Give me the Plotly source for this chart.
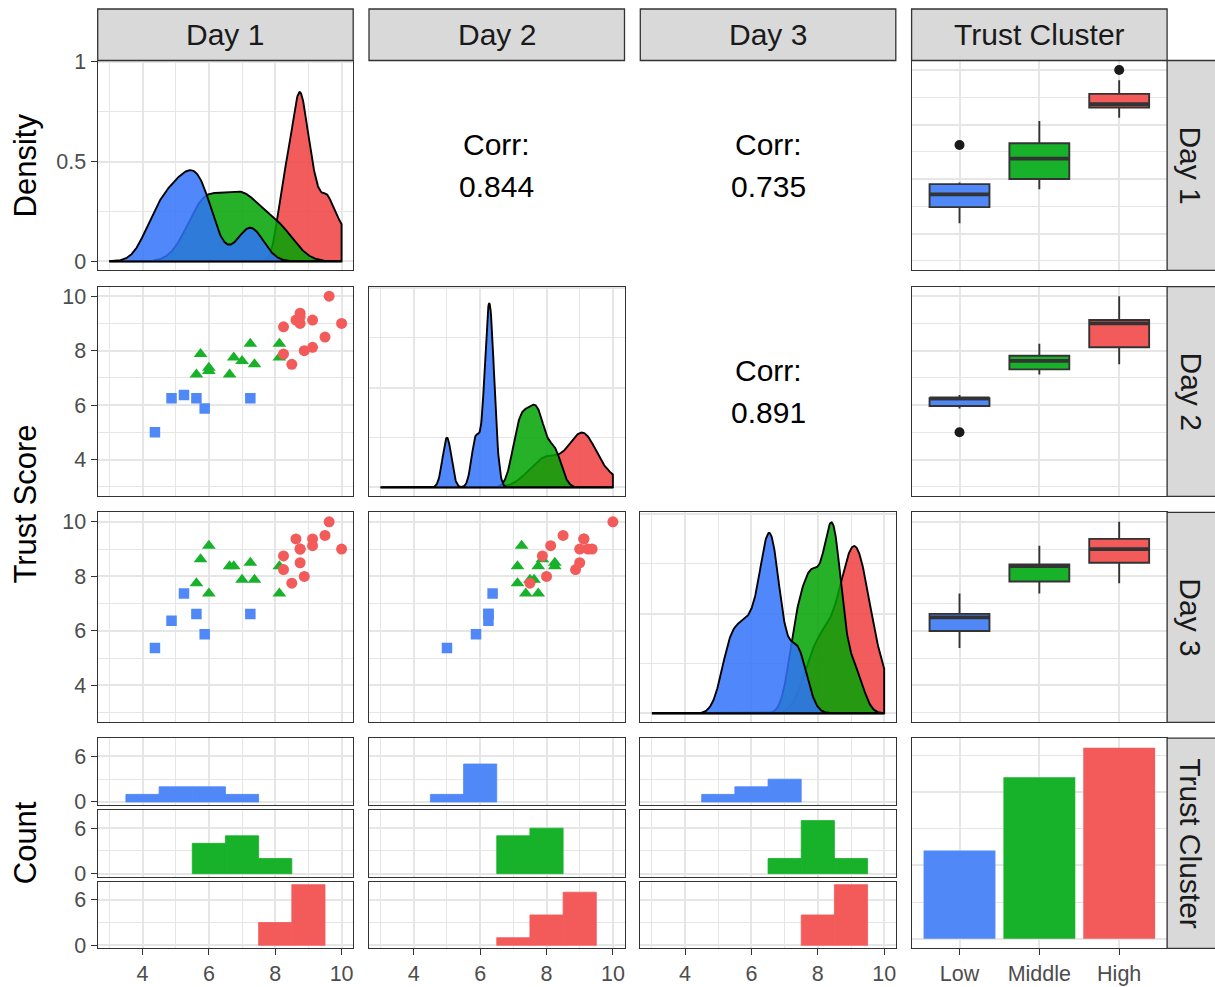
import numpy as np
import plotly.graph_objects as go

# ---------------- data ----------------
clusters = ["Low", "Middle", "High"]
days = ["Day 1", "Day 2", "Day 3"]

day1_low = [4.375, 4.875, 5.25, 5.625, 5.875, 7.25]
day2_low = [5.0, 6.25, 6.375, 6.25, 5.875, 6.25]
day3_low = [5.375, 6.375, 7.375, 6.625, 5.875, 6.625]

day1_mid = [5.75, 6.0, 6.0, 5.625, 6.625, 6.75, 7.0, 7.25, 7.375, 8.125, 8.125]
day2_mid = [7.875, 7.375, 7.25, 7.125, 7.125, 7.75, 7.625, 8.25, 7.5, 8.25, 7.75]
day3_mid = [8.625, 7.375, 9.125, 7.75, 8.375, 8.375, 7.875, 8.5, 7.875, 8.375, 7.375]

day1_high = [9.625, 8.75, 8.625, 8.75, 9.125, 10.0, 8.25, 9.5, 9.125, 8.875, 8.25, 8.5, 8.75]
day2_high = [10.0, 9.375, 9.125, 9.0, 9.125, 9.0, 8.875, 8.5, 8.125, 8.0, 7.875, 7.5, 9.25]
day3_high = [10.0, 9.0, 9.375, 8.5, 9.375, 9.0, 8.25, 9.5, 9.125, 8.0, 8.75, 7.75, 9.0]

corr_labels = {(0, 1): "0.844", (0, 2): "0.735", (1, 2): "0.891"}

x_ticks = [4, 6, 8, 10]
x_minor = [3, 5, 7, 9]
density_ticks = [0, 0.5, 1]
density_ticktext = ["0", "0.5", "1"]
count_ticks = [0, 6]
count_minor = [3]
bar_ticks = [0, 5, 10]
bar_minor = [2.5, 7.5, 12.5]

data = {
    "Low": [day1_low, day2_low, day3_low],
    "Middle": [day1_mid, day2_mid, day3_mid],
    "High": [day1_high, day2_high, day3_high],
}

# ---------------- style ----------------
W, H = 1215, 987
FONT = "Liberation Sans, Arial, Helvetica, sans-serif"
BORDER = "#333333"
GRID = "#E6E6E6"
colors = {"Low": "#5088F7", "Middle": "#18B12A", "High": "#F35B5B"}
fills = {"Low": "rgba(49,114,249,0.85)", "Middle": "rgba(0,163,4,0.85)",
         "High": "rgba(241,64,64,0.85)"}
symbols = {"Low": "square", "Middle": "triangle-up", "High": "circle"}
msizes = {"Low": 10.5, "Middle": 12, "High": 11}

X_LIM = (3.0, 10.0)
EXP = 0.05
X_RANGE = [X_LIM[0] - EXP * (X_LIM[1] - X_LIM[0]), X_LIM[1] + EXP * (X_LIM[1] - X_LIM[0])]
CAT_RANGE = [-0.6, 2.6]
BOX_W = 0.75
BAR_W = 0.9
diag_peak_frac = [None, 0.924, 0.957]

col_px = [(97.7, 353.2), (369.0, 624.5), (640.3, 895.8), (911.6, 1167.1)]
row_px = [(60.5, 270.3), (286.7, 496.3), (512.3, 722.3), (738.2, 948.3)]
sub_px = [(738.2, 805.0), (810.0, 876.7), (881.6, 948.3)]
STRIP_TOP = (9.0, 60.5)
STRIP_RIGHT = (1167.1, 1218.0)

layout = {}
counter = [0]


def new_axes(xpx, ypx, xa, ya):
    counter[0] += 1
    k = counter[0]
    s = "" if k == 1 else str(k)
    xa = dict(xa)
    ya = dict(ya)
    xa.update(domain=[xpx[0] / W, xpx[1] / W], anchor="y" + s)
    ya.update(domain=[1 - ypx[1] / H, 1 - ypx[0] / H], anchor="x" + s)
    layout["xaxis" + s] = xa
    layout["yaxis" + s] = ya
    return "x" + s, "y" + s


def axis(rng, major=None, minor=None, labels=False, ticktext=None, grid=True):
    a = dict(range=rng, showline=True, mirror=True, linecolor=BORDER, linewidth=1.3,
             zeroline=False, fixedrange=True, showgrid=bool(grid and major is not None),
             gridcolor=GRID, gridwidth=1.6)
    if major is not None:
        a["tickmode"] = "array"
        a["tickvals"] = list(major)
        if ticktext is not None:
            a["ticktext"] = ticktext
    if labels:
        a.update(ticks="outside", ticklen=6, tickwidth=1.3, tickcolor=BORDER,
                 showticklabels=True,
                 tickfont=dict(family=FONT, size=21.5, color="#4D4D4D"))
    else:
        a.update(ticks="", showticklabels=False)
    if minor is not None and grid:
        a["minor"] = dict(tickmode="array", tickvals=list(minor), showgrid=True,
                          gridcolor=GRID, gridwidth=0.8, ticks="")
    return a


def bw_nrd0(v):
    v = np.asarray(v, dtype=float)
    sd = np.std(v, ddof=1)
    q75, q25 = np.percentile(v, [75, 25])
    lo = min(sd, (q75 - q25) / 1.34)
    if lo <= 0:
        lo = sd if sd > 0 else 1.0
    return 0.9 * lo * len(v) ** -0.2


GRIDX = np.linspace(X_LIM[0], X_LIM[1], 512)


def kde(v):
    v = np.asarray(v, dtype=float)
    bw = bw_nrd0(v)
    z = (GRIDX[:, None] - v[None, :]) / bw
    return np.exp(-0.5 * z ** 2).sum(axis=1) / (len(v) * bw * np.sqrt(2 * np.pi))


EDGES = np.arange(X_LIM[0] - 0.5, X_LIM[1] + 1.0, 1.0)


def hist_counts(v):
    v = np.asarray(v, dtype=float)
    lo, hi = EDGES[:-1], EDGES[1:]
    counts = np.array([np.sum((v > a) & (v <= b)) for a, b in zip(lo, hi)])
    keep = (lo >= X_LIM[0]) & (hi <= X_LIM[1]) & (counts > 0)
    return ((lo + hi) / 2)[keep], counts[keep]


def box_stats(v):
    v = np.sort(np.asarray(v, dtype=float))
    q1, med, q3 = np.percentile(v, [25, 50, 75])
    iqr = q3 - q1
    lf, uf = q1 - 1.5 * iqr, q3 + 1.5 * iqr
    inside = v[(v >= lf) & (v <= uf)]
    out = v[(v < lf) | (v > uf)]
    return q1, med, q3, inside.min(), inside.max(), out


traces = []
annotations = []
shapes = []

max_count = max(hist_counts(data[cl][d])[1].max() for cl in clusters for d in range(3))
HIST_RANGE = [-EXP * max_count, (1 + EXP) * max_count]

for r in range(3):
    for c in range(4):
        xpx, ypx = col_px[c], row_px[r]
        left = c == 0
        if c == r:
            dens = {cl: kde(data[cl][r]) for cl in clusters}
            M = max(d.max() for d in dens.values())
            scale = 1.0 if diag_peak_frac[r] is None else M / diag_peak_frac[r]
            xa = axis(X_RANGE, x_ticks, x_minor)
            ya = axis([-0.045 * scale, 1.007 * scale],
                      [t * scale for t in density_ticks], [0.25 * scale, 0.75 * scale],
                      labels=left, ticktext=density_ticktext if left else None)
            xn, yn = new_axes(xpx, ypx, xa, ya)
            for cl in clusters[::-1]:
                d = dens[cl]
                xs = np.concatenate([GRIDX, [GRIDX[-1], GRIDX[0]]])
                ys = np.concatenate([d, [0.0, 0.0]])
                traces.append(go.Scatter(x=xs, y=ys, mode="lines", fill="toself",
                                         fillcolor=fills[cl],
                                         line=dict(color="black", width=1.9),
                                         xaxis=xn, yaxis=yn, hoverinfo="skip",
                                         showlegend=False))
        elif c < r:
            xa = axis(X_RANGE, x_ticks, x_minor)
            ya = axis(X_RANGE, x_ticks, x_minor, labels=left)
            xn, yn = new_axes(xpx, ypx, xa, ya)
            for cl in clusters:
                traces.append(go.Scatter(x=data[cl][c], y=data[cl][r], mode="markers",
                                         marker=dict(symbol=symbols[cl], size=msizes[cl],
                                                     color=colors[cl], line=dict(width=0)),
                                         xaxis=xn, yaxis=yn, hoverinfo="skip",
                                         showlegend=False))
        elif c < 3:
            xa = axis([0, 1], grid=False)
            ya = axis([0, 1], grid=False)
            new_axes(xpx, ypx, xa, ya)
            cx = (xpx[0] + xpx[1]) / 2
            cy = (ypx[0] + ypx[1]) / 2
            for txt, dy in (("Corr:", -21), (corr_labels[(r, c)], 21)):
                annotations.append(dict(text=txt, x=cx / W, y=1 - (cy + dy) / H,
                                        xref="paper", yref="paper", showarrow=False,
                                        xanchor="center", yanchor="middle",
                                        font=dict(family=FONT, size=30, color="#000000")))
        else:
            xa = axis(CAT_RANGE, [0, 1, 2])
            ya = axis(X_RANGE, x_ticks, x_minor)
            xn, yn = new_axes(xpx, ypx, xa, ya)
            for i, cl in enumerate(clusters):
                q1, med, q3, lw, uw, out = box_stats(data[cl][r])
                traces.append(go.Box(x=[i], q1=[q1], median=[med], q3=[q3],
                                     lowerfence=[lw], upperfence=[uw], width=BOX_W,
                                     fillcolor=colors[cl],
                                     line=dict(color=BORDER, width=1.9),
                                     whiskerwidth=0, boxpoints=False,
                                     xaxis=xn, yaxis=yn, hoverinfo="skip",
                                     showlegend=False))
                traces.append(go.Scatter(x=[i - BOX_W / 2, i + BOX_W / 2], y=[med, med],
                                         mode="lines", line=dict(color=BORDER, width=3.8),
                                         xaxis=xn, yaxis=yn, hoverinfo="skip",
                                         showlegend=False))
                if len(out):
                    traces.append(go.Scatter(x=[i] * len(out), y=out, mode="markers",
                                             marker=dict(size=10, color="#1A1A1A"),
                                             xaxis=xn, yaxis=yn, hoverinfo="skip",
                                             showlegend=False))

# bottom row: histograms
for c in range(3):
    for i, cl in enumerate(clusters):
        bottom = i == 2
        xa = axis(X_RANGE, x_ticks, x_minor, labels=bottom)
        ya = axis(HIST_RANGE, count_ticks, count_minor, labels=(c == 0))
        xn, yn = new_axes(col_px[c], sub_px[i], xa, ya)
        centers, counts = hist_counts(data[cl][c])
        traces.append(go.Bar(x=centers, y=counts, width=1.0,
                             marker=dict(color=colors[cl],
                                         line=dict(color=colors[cl], width=0.8)),
                             xaxis=xn, yaxis=yn, hoverinfo="skip", showlegend=False))

# bottom-right: bar chart of cluster sizes
n_per = [len(data[cl][0]) for cl in clusters]
nmax = max(n_per)
xa = axis(CAT_RANGE, [0, 1, 2], labels=True, ticktext=clusters)
ya = axis([-EXP * nmax, (1 + EXP) * nmax], bar_ticks, bar_minor)
xn, yn = new_axes(col_px[3], row_px[3], xa, ya)
traces.append(go.Bar(x=[0, 1, 2], y=n_per, width=BAR_W,
                     marker=dict(color=[colors[cl] for cl in clusters], line=dict(width=0)),
                     xaxis=xn, yaxis=yn, hoverinfo="skip", showlegend=False))

# strips
strip_font = dict(family=FONT, size=30, color="#1A1A1A")
top_labels = days + ["Trust Cluster"]
for c in range(4):
    x0, x1 = col_px[c]
    shapes.append(dict(type="rect", xref="paper", yref="paper", x0=x0 / W, x1=x1 / W,
                       y0=1 - STRIP_TOP[1] / H, y1=1 - STRIP_TOP[0] / H,
                       fillcolor="#D9D9D9", line=dict(color=BORDER, width=1.3)))
    annotations.append(dict(text=top_labels[c], x=(x0 + x1) / 2 / W,
                            y=1 - (STRIP_TOP[0] + STRIP_TOP[1]) / 2 / H,
                            xref="paper", yref="paper", showarrow=False,
                            xanchor="center", yanchor="middle", font=strip_font))
right_labels = days + ["Trust Cluster"]
for r in range(4):
    y0, y1 = row_px[r]
    shapes.append(dict(type="rect", xref="paper", yref="paper",
                       x0=STRIP_RIGHT[0] / W, x1=STRIP_RIGHT[1] / W,
                       y0=1 - y1 / H, y1=1 - y0 / H,
                       fillcolor="#D9D9D9", line=dict(color=BORDER, width=1.3)))
    annotations.append(dict(text=right_labels[r], x=1191 / W, y=1 - (y0 + y1) / 2 / H,
                            xref="paper", yref="paper", showarrow=False, textangle=90,
                            xanchor="center", yanchor="middle", font=strip_font))

# axis titles
title_font = dict(family=FONT, size=31, color="#000000")
for txt, yc in (("Density", (row_px[0][0] + row_px[0][1]) / 2),
                ("Trust Score", (row_px[1][0] + row_px[2][1]) / 2),
                ("Count", (row_px[3][0] + row_px[3][1]) / 2)):
    annotations.append(dict(text=txt, x=25 / W, y=1 - yc / H, xref="paper", yref="paper",
                            showarrow=False, textangle=-90, xanchor="center",
                            yanchor="middle", font=title_font))

fig = go.Figure(data=traces)
fig.update_layout(**layout)
fig.update_layout(width=W, height=H, margin=dict(l=0, r=0, t=0, b=0, autoexpand=False),
                  paper_bgcolor="white", plot_bgcolor="white", showlegend=False,
                  annotations=annotations, shapes=shapes,
                  font=dict(family=FONT), barmode="overlay")
fig.write_html("out.html",
               config={"responsive": False, "displayModeBar": False},
               post_script="document.body.style.margin='0';document.body.style.overflow='hidden';")
